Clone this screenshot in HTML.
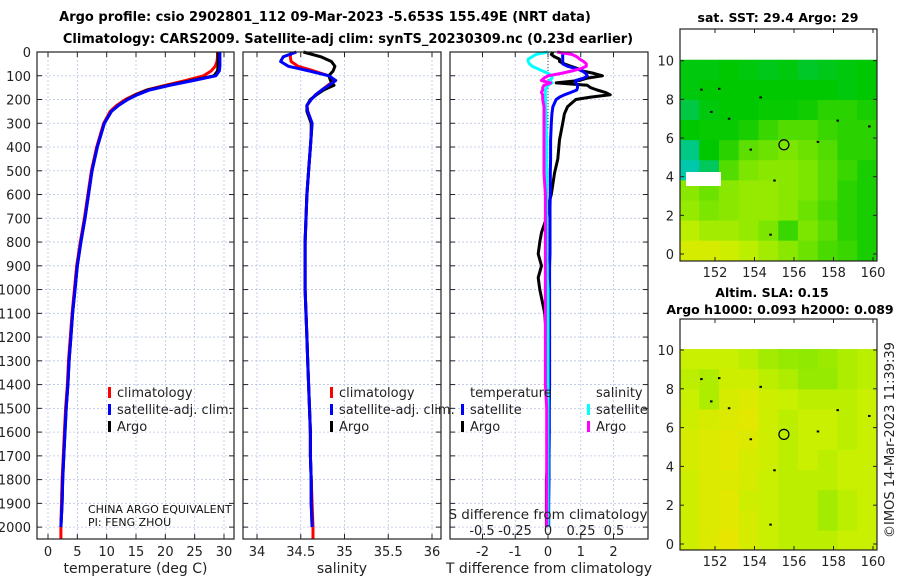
<!DOCTYPE html>
<html><head><meta charset="utf-8"><style>
html,body{margin:0;padding:0;background:#fff;}
svg{display:block;font-family:"DejaVu Sans","Liberation Sans",sans-serif;}
</style></head><body>
<svg id="fig" width="900" height="580" viewBox="0 0 900 580">
<defs>
<clipPath id="clipSst"><rect x="680" y="29" width="197" height="232"/></clipPath>
<clipPath id="clipSla"><rect x="680" y="319" width="197" height="231"/></clipPath>
</defs>
<text x="325" y="21" font-size="13" font-weight="bold" text-anchor="middle">Argo profile: csio 2902801_112 09-Mar-2023 -5.653S 155.49E (NRT data)</text>
<text x="348" y="43" font-size="13" font-weight="bold" text-anchor="middle">Climatology: CARS2009. Satellite-adj clim: synTS_20230309.nc (0.23d earlier)</text>
<text x="778" y="22" font-size="12.5" font-weight="bold" text-anchor="middle">sat. SST: 29.4 Argo: 29</text>
<text x="772" y="297" font-size="12.5" font-weight="bold" text-anchor="middle">Altim. SLA: 0.15</text>
<text x="780" y="314" font-size="12.5" font-weight="bold" text-anchor="middle">Argo h1000: 0.093 h2000: 0.089</text>
<text transform="translate(894,440) rotate(-90)" font-size="13" text-anchor="middle" fill="#222">©IMOS 14-Mar-2023 11:39:39</text>
<g id="plots"></g>
</svg>
<script>
// ---- profile data ----
const depths = [0,20,40,60,80,100,120,140,160,180,200,225,250,300,350,400,500,600,700,800,900,1000,1100,1200,1300,1400,1500,1600,1700,1800,1900,2000];
const tempArgo = [29.0,29.0,29.0,29.0,28.9,28.3,24.5,20.5,17.0,15.0,13.5,12.0,10.8,9.6,9.0,8.4,7.5,6.9,6.3,5.6,5.0,4.6,4.2,3.9,3.6,3.4,3.1,2.9,2.7,2.5,2.4,2.2];
const tempClim = [28.9,28.9,28.8,28.5,27.8,26.5,23.5,20.0,16.8,14.8,13.2,11.7,10.6,9.5,8.9,8.3,7.4,6.8,6.2,5.5,4.9,4.5,4.1,3.8,3.5,3.3,3.0,2.8,2.6,2.4,2.3,2.2];
const tempSat  = [29.3,29.3,29.3,29.3,29.2,28.6,24.8,20.8,17.3,15.2,13.6,12.0,10.8,9.6,9.0,8.4,7.5,6.9,6.3,5.6,5.0,4.6,4.2,3.9,3.6,3.4,3.1,2.9,2.7,2.5,2.4,2.2];
const salArgo = [34.53,34.73,34.85,34.89,34.87,34.82,34.84,34.88,34.76,34.68,34.61,34.57,34.57,34.62,34.62,34.61,34.59,34.57,34.56,34.55,34.55,34.55,34.56,34.57,34.58,34.59,34.60,34.61,34.61,34.62,34.62,34.63];
const salClim = [34.39,34.38,34.39,34.47,34.65,34.82,34.88,34.81,34.74,34.67,34.62,34.57,34.58,34.63,34.62,34.61,34.59,34.57,34.56,34.55,34.55,34.55,34.56,34.57,34.58,34.59,34.60,34.61,34.61,34.62,34.63,34.64];
const salSat  = [34.45,34.30,34.27,34.36,34.60,34.82,34.90,34.82,34.74,34.67,34.62,34.57,34.58,34.63,34.62,34.61,34.59,34.57,34.56,34.55,34.55,34.55,34.56,34.57,34.58,34.59,34.60,34.61,34.61,34.62,34.62,34.63];
const climExtraDepth = [2000,2050];
const climExtraTemp = [2.2,2.2];
const climExtraSal = [34.64,34.64];
// ---- difference data ----
const diffDepths = [0,10,20,30,40,50,60,70,80,90,100,110,120,130,140,150,160,170,180,190,200,230,260,300,370,450,510,600,650,700,760,800,850,900,950,1000,1100,1200,1300,1400,1500,1600,1700,1800,1900,2000];
const tDiffArgo = [0.15,0.1,0.2,0.35,0.35,0.5,0.7,0.9,1.05,1.4,1.66,1.2,0.95,0.25,1.2,1.3,1.5,1.75,1.9,1.3,0.85,0.6,0.5,0.45,0.35,0.3,0.2,0.1,0.0,-0.05,-0.2,-0.25,-0.3,-0.2,-0.3,-0.25,-0.1,-0.05,0,0.02,-0.02,0,0,-0.05,-0.05,-0.05];
const tDiffSat = [0.5,0.45,0.45,0.45,0.45,0.45,0.6,0.85,1.05,1.15,1.2,1.1,0.85,0.85,0.9,0.9,0.88,0.7,0.5,0.35,0.25,0.15,0.12,0.1,0.08,0.08,0.07,0.07,0.06,0.06,0.06,0.06,0.06,0.05,0.05,0.05,0.05,0.05,0.05,0.05,0.04,0.04,0.03,0.03,0.02,0.02];
const sDiffSat = [0.0,-0.09,-0.12,-0.15,-0.15,-0.14,-0.12,-0.08,-0.04,0.0,0.03,0.03,0.01,0.03,0.0,-0.01,-0.02,-0.02,-0.02,-0.02,-0.02,-0.02,-0.015,-0.015,-0.01,-0.01,-0.01,-0.01,-0.01,-0.01,-0.01,-0.01,-0.01,-0.005,-0.005,0,0,0,0,0,0,0,0,0,0,0];
const sDiffArgo = [0.07,0.18,0.22,0.24,0.27,0.29,0.29,0.25,0.18,0.1,0.0,-0.03,-0.05,0.02,-0.03,-0.04,-0.04,-0.05,-0.04,-0.04,-0.04,-0.03,-0.03,-0.03,-0.03,-0.03,-0.03,-0.02,-0.02,-0.02,-0.02,-0.02,-0.02,-0.02,-0.02,-0.02,-0.02,-0.02,-0.02,-0.02,-0.01,-0.01,-0.01,-0.01,-0.01,-0.01];
const depthTicks = [0,100,200,300,400,500,600,700,800,900,1000,1100,1200,1300,1400,1500,1600,1700,1800,1900,2000];
const tempTicks = [0,5,10,15,20,25,30];
const salTicks = [34,34.5,35,35.5,36];
const tDiffTicks = [-2,-1,0,1,2];
const sDiffTicks = [-0.5,-0.25,0,0.25,0.5];
const sDiffTickLabels = ["-0.5","-0.25","0","0.25","0.5"];
// ---- map data (rows from lat 10 down to 0, columns lon 150.2 to 160.2) ----
const mapLons = [150.2,151.2,152.2,153.2,154.2,155.2,156.2,157.2,158.2,159.2];
const mapLats = [10.05,9.01,7.97,6.93,5.89,4.85,3.81,2.77,1.73,0.69];
const sstGrid = [
[.44,.44,.45,.44,.43,.44,.42,.43,.44,.45],
[.44,.45,.45,.45,.45,.45,.45,.45,.44,.45],
[.40,.44,.45,.45,.46,.46,.47,.50,.50,.48],
[.45,.46,.46,.48,.52,.55,.55,.52,.50,.50],
[.35,.45,.50,.56,.58,.60,.58,.55,.50,.50],
[.32,.38,.55,.60,.62,.62,.60,.56,.52,.48],
[.62,.58,.62,.64,.64,.62,.60,.56,.50,.48],
[.64,.60,.62,.64,.64,.62,.58,.54,.50,.48],
[.70,.66,.66,.64,.60,.52,.60,.56,.50,.48],
[.76,.76,.74,.70,.66,.62,.58,.54,.52,.48]];
const slaGrid = [
[.72,.72,.72,.70,.66,.64,.63,.65,.68,.70],
[.70,.68,.74,.74,.70,.68,.64,.64,.68,.70],
[.72,.68,.76,.78,.74,.72,.70,.70,.70,.72],
[.74,.76,.78,.80,.74,.70,.72,.72,.70,.72],
[.76,.78,.80,.78,.74,.70,.72,.72,.70,.72],
[.76,.78,.80,.76,.74,.70,.72,.70,.72,.72],
[.74,.78,.78,.76,.72,.70,.70,.70,.72,.72],
[.74,.78,.80,.74,.72,.70,.70,.66,.70,.72],
[.74,.78,.80,.76,.72,.70,.70,.66,.70,.72],
[.74,.78,.82,.76,.72,.70,.70,.70,.72,.72]];
const argoLon = 155.49, argoLat = 5.65;
const islandLons = [151.3,151.8,152.2,152.7,154.3,153.8,155.0,158.2,159.8,157.2,154.8];
const islandLats = [8.5,7.35,8.55,7.0,8.1,5.4,3.8,6.9,6.6,5.8,1.0];
const mapLonTicks = [152,154,156,158,160];
const mapLatTicks = [0,2,4,6,8,10];

const NS = "http://www.w3.org/2000/svg";
const root = document.getElementById('plots');
function mk(tag, attrs, parent){ const e=document.createElementNS(NS,tag); for(const k in attrs) e.setAttribute(k,attrs[k]); (parent||root).appendChild(e); return e; }
function lin(d0,d1,r0,r1){ return v => r0 + (v-d0)*(r1-r0)/(d1-d0); }

const PT=52, PB=539;
const yDepth = lin(0,2050,PT,PB);

function panel(name,x0,x1,xs,ticks,labels,xlabel,leftLabels){
  const g = mk('g',{});
  
  
  ticks.forEach(t=>{ const x=xs(t);
    mk('line',{x1:x,x2:x,y1:PT,y2:PB,stroke:'#b8c4e6','stroke-width':0.8,'stroke-dasharray':'2,2'},g);
    mk('line',{x1:x,x2:x,y1:PB,y2:PB-5,stroke:'#222','stroke-width':1},g);
    mk('line',{x1:x,x2:x,y1:PT,y2:PT+5,stroke:'#222','stroke-width':1},g);
  });
  depthTicks.forEach(d=>{ const y=yDepth(d);
    mk('line',{x1:x0,x2:x1,y1:y,y2:y,stroke:'#b8c4e6','stroke-width':0.8,'stroke-dasharray':'2,2'},g);
    mk('line',{x1:x0,x2:x0+5,y1:y,y2:y,stroke:'#222','stroke-width':1},g);
    mk('line',{x1:x1,x2:x1-5,y1:y,y2:y,stroke:'#222','stroke-width':1},g);
    if(leftLabels){ const t=mk('text',{x:x0-6,y:y+5,'font-size':13,'text-anchor':'end',fill:'#222'},g); t.textContent=d;
      
       }
  });
  if(labels) ticks.forEach((t,i)=>{ const tx=mk('text',{x:xs(t),y:556,'font-size':13,'text-anchor':'middle',fill:'#222'},g); tx.textContent=labels[i];
    
     });
  const xl=mk('text',{x:(x0+x1)/2,y:573,'font-size':14,'text-anchor':'middle',fill:'#222'},g); xl.textContent=xlabel;
  
  
  return g;
}
function frame(g,x0,x1){ mk('rect',{x:x0,y:PT,width:x1-x0,height:PB-PT,fill:'none',stroke:'#222','stroke-width':1.2},g); }
function curve(g,name,xs,dep,vals,color,w){
  const pts = vals.map((v,i)=>xs(v).toFixed(1)+','+yDepth(dep[i]).toFixed(1)).join(' ');
  const p = mk('polyline',{points:pts,fill:'none',stroke:color,'stroke-width':w||3,'stroke-linejoin':'round'},g);
  
  
}
function legend(g,x,y,items){
  items.forEach((it,i)=>{
    const yy=y+i*17;
    if(it.c){ mk('rect',{x:x,y:yy-10,width:3,height:11,fill:it.c},g); }
    const t=mk('text',{x:x+(it.c?9:0),y:yy,'font-size':13,fill:'#222'},g); t.textContent=it.t;
    
    
  });
}

// Panel 1: temperature
const xT = lin(0,30,48,224);
const g1 = panel('temperature-panel',37,234,xT,tempTicks,tempTicks.map(String),'temperature (deg C)',true);
curve(g1,'clim-temp-line',xT,climExtraDepth,climExtraTemp,'#ff0000');
curve(g1,'clim-temp-line',xT,depths,tempClim,'#ff0000');
curve(g1,'argo-temp-line',xT,depths,tempArgo,'#000000');
curve(g1,'sat-temp-line',xT,depths,tempSat,'#0000ff');
frame(g1,37,234);
legend(g1,108,397,[{t:'climatology',c:'#ff0000'},{t:'satellite-adj. clim.',c:'#0000ff'},{t:'Argo',c:'#000'}]);
const c1=mk('text',{x:88,y:513,'font-size':11,fill:'#111'},g1); c1.textContent='CHINA ARGO EQUIVALENT';


const c2=mk('text',{x:88,y:526,'font-size':11,fill:'#111'},g1); c2.textContent='PI: FENG ZHOU';



// Panel 2: salinity
const xS = lin(34,36,257,432);
const g2 = panel('salinity-panel',243,441,xS,salTicks,salTicks.map(String),'salinity',false);
curve(g2,'clim-sal-line',xS,climExtraDepth,climExtraSal,'#ff0000');
curve(g2,'clim-sal-line',xS,depths,salClim,'#ff0000');
curve(g2,'argo-sal-line',xS,depths,salArgo,'#000000');
curve(g2,'sat-sal-line',xS,depths,salSat,'#0000ff');
frame(g2,243,441);
legend(g2,330,397,[{t:'climatology',c:'#ff0000'},{t:'satellite-adj. clim.',c:'#0000ff'},{t:'Argo',c:'#000'}]);

// Panel 3: differences
const xTD = lin(0,1,548,580.75);
const xSD = lin(0,1,548,680);
const g3 = panel('difference-panel',450,648,xTD,tDiffTicks,tDiffTicks.map(String),'T difference from climatology',false);
mk('line',{x1:548,x2:548,y1:PT,y2:130,stroke:'#444','stroke-width':1,'stroke-dasharray':'1,2'},g3);
curve(g3,'argo-tdiff-line',xTD,diffDepths,tDiffArgo,'#000000');
curve(g3,'sat-tdiff-line',xTD,diffDepths,tDiffSat,'#0000ff');
curve(g3,'sat-sdiff-line',xSD,diffDepths,sDiffSat,'#00ffff');
curve(g3,'argo-sdiff-line',xSD,diffDepths,sDiffArgo,'#ff00ff');
frame(g3,450,648);
sDiffTicks.forEach((t,i)=>{ const tx=mk('text',{x:xSD(t),y:535,'font-size':13,'text-anchor':'middle',fill:'#222'},g3); tx.textContent=sDiffTickLabels[i];
  
   });
const sdl=mk('text',{x:548,y:519,'font-size':13.5,'text-anchor':'middle',fill:'#222'},g3); sdl.textContent='S difference from climatology';


legend(g3,470,397,[{t:'temperature'}]);
legend(g3,461,414,[{t:'satellite',c:'#0000ff'},{t:'Argo',c:'#000'}]);
legend(g3,596,397,[{t:'salinity'}]);
legend(g3,587,414,[{t:'satellite',c:'#00ffff'},{t:'Argo',c:'#ff00ff'}]);

// ---- maps ----
const stops=[[0,[0,0,160]],[0.15,[0,80,255]],[0.3,[0,200,200]],[0.45,[0,200,0]],[0.6,[125,230,0]],[0.72,[200,240,0]],[0.82,[232,230,0]],[0.92,[245,205,0]],[1,[255,128,0]]];
function cmap(v){ for(let i=1;i<stops.length;i++){ if(v<=stops[i][0]){ const a=stops[i-1],b=stops[i],f=(v-a[0])/(b[0]-a[0]); const c=a[1].map((x,k)=>Math.round(x+(b[1][k]-x)*f)); return 'rgb('+c.join(',')+')'; } } return 'rgb(255,128,0)'; }
function drawMap(name,top,bot,lat10y,lat0y,grid,clip){
  const g = mk('g',{});
  
  
  const cg = mk('g',{'clip-path':'url(#'+clip+')'},g);
  const xL = lin(152,160,715,873), yL = lin(0,10,lat0y,lat10y);
  const dLat = (mapLats[0]-mapLats[1]);
  grid.forEach((row,r)=>row.forEach((v,c)=>{
    const x0=xL(mapLons[c]), x1=xL(mapLons[c]+1), y0=yL(mapLats[r]), y1=yL(mapLats[r]-dLat-(r===grid.length-1?0.4:0));
    const cell=mk('rect',{x:x0,y:y0,width:x1-x0+0.6,height:y1-y0+0.6,fill:cmap(v)},cg);
    
    
  }));
  islandLons.forEach((lo,i)=>{ const isl=mk('rect',{x:xL(lo)-1,y:yL(islandLats[i])-1,width:2.5,height:2,fill:'#000'},g);
    
     });
  const circ=mk('circle',{cx:xL(argoLon),cy:yL(argoLat),r:5,fill:'none',stroke:'#000','stroke-width':1.2},g);
  
  
  mk('rect',{x:680,y:top,width:197,height:bot-top,fill:'none',stroke:'#222','stroke-width':1.2},g);
  mapLonTicks.forEach(t=>{ const x=xL(t);
    mk('line',{x1:x,x2:x,y1:bot,y2:bot-4,stroke:'#222'},g); mk('line',{x1:x,x2:x,y1:top,y2:top+4,stroke:'#222'},g);
    const tx=mk('text',{x:x,y:bot+16,'font-size':13,'text-anchor':'middle',fill:'#222'},g); tx.textContent=t;
    
     });
  mapLatTicks.forEach(t=>{ const y=yL(t);
    mk('line',{x1:680,x2:684,y1:y,y2:y,stroke:'#222'},g); mk('line',{x1:877,x2:873,y1:y,y2:y,stroke:'#222'},g);
    const tx=mk('text',{x:674,y:y+5,'font-size':13,'text-anchor':'end',fill:'#222'},g); tx.textContent=t;
    
     });
}
drawMap('sst-map',29,261,60.7,254,sstGrid,'clipSst');
drawMap('sla-map',319,550,350,544,slaGrid,'clipSla');
// white gap patch on SST map
const gap=mk('rect',{x:686,y:172,width:35,height:14,fill:'#fff'});


</script>
</body></html>
